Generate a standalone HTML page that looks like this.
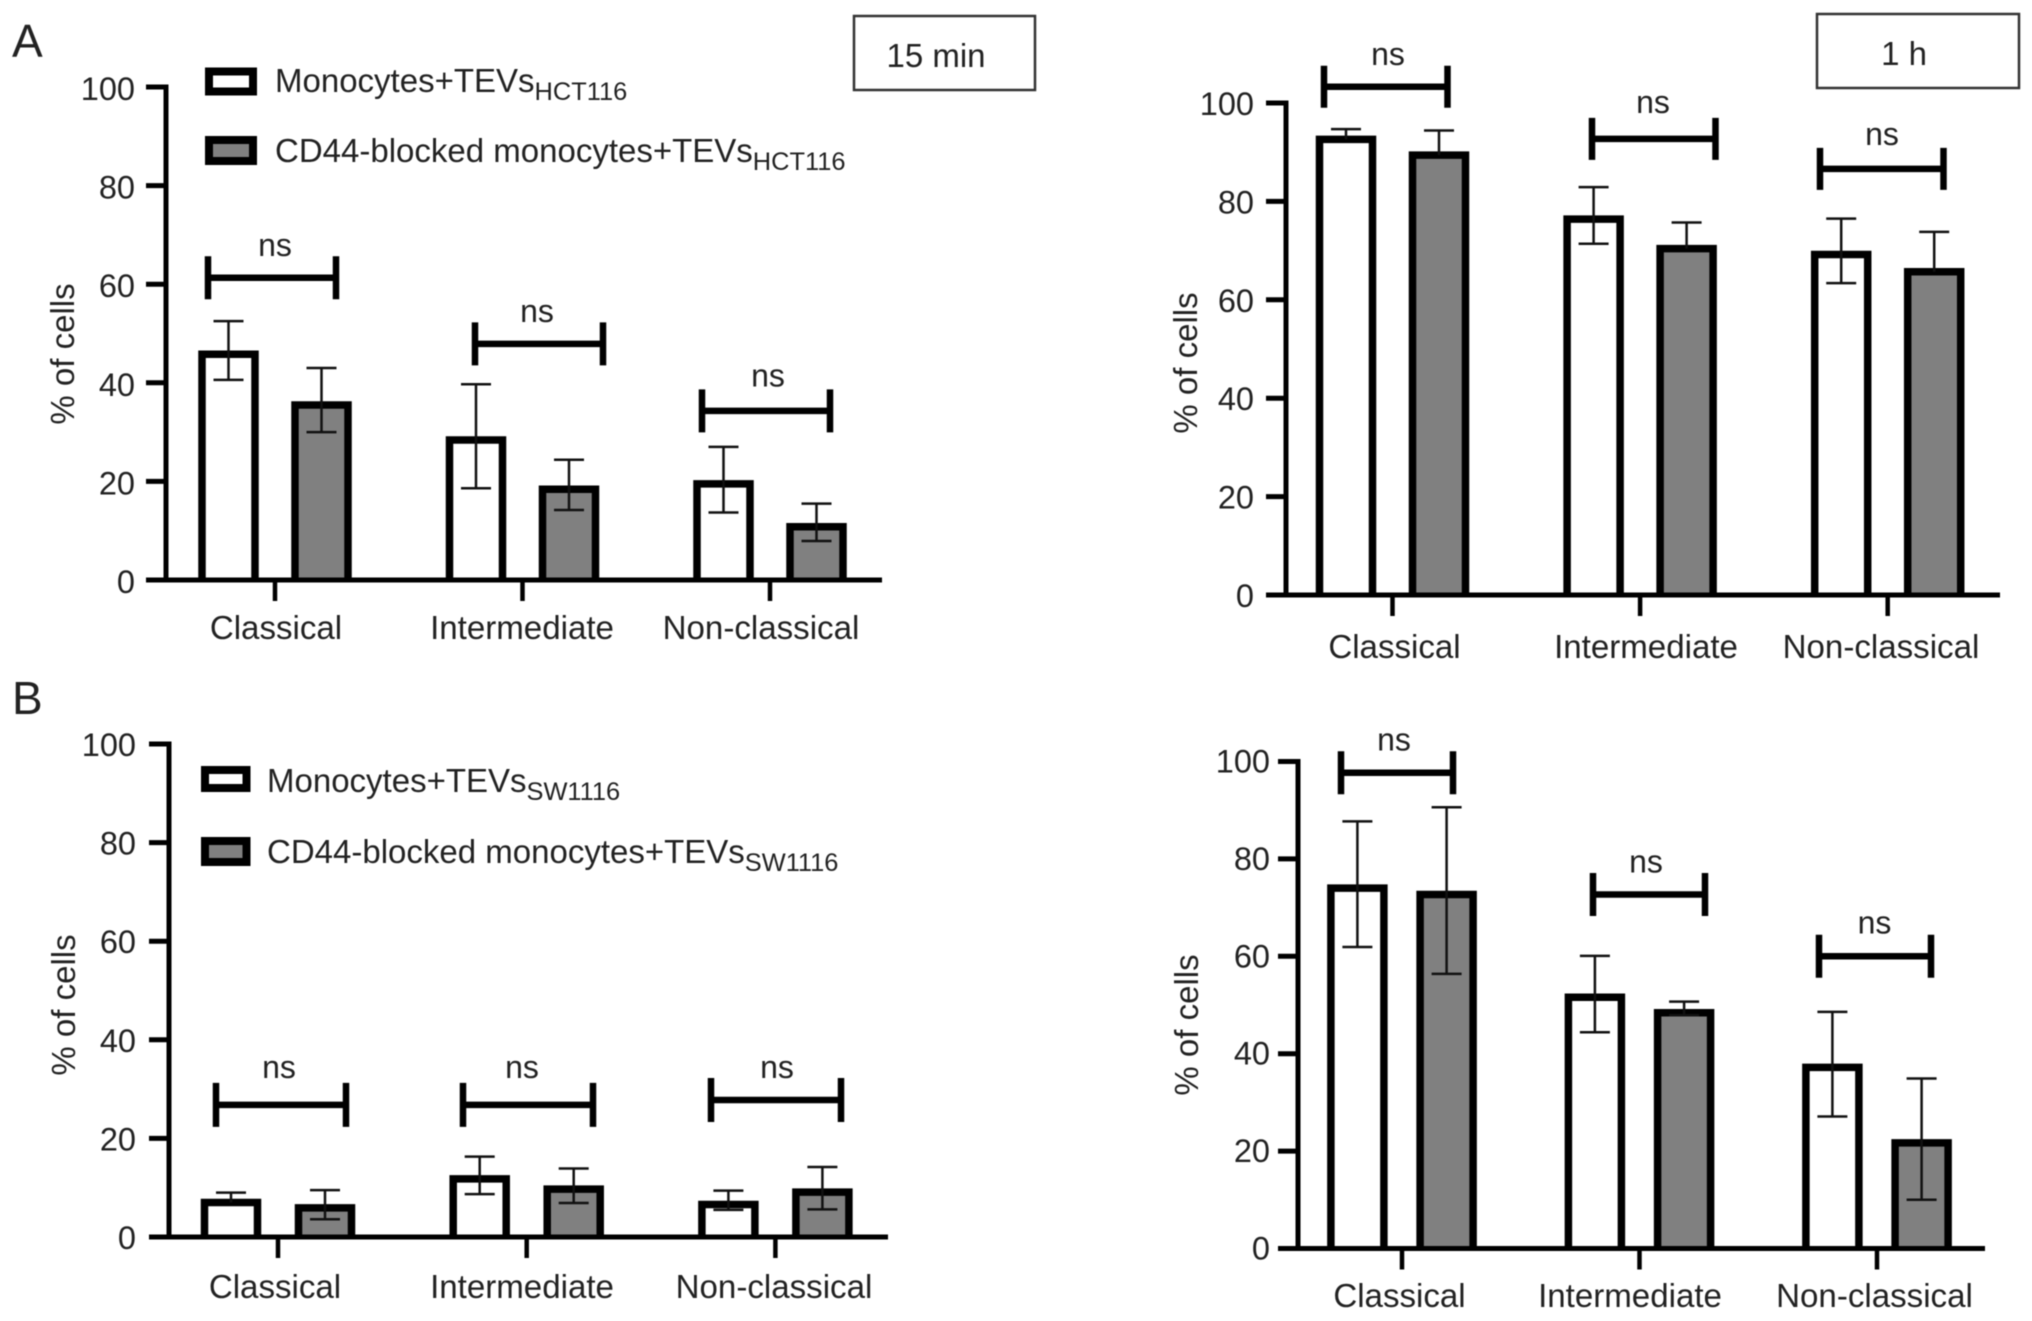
<!DOCTYPE html>
<html lang="en">
<head>
<meta charset="utf-8">
<title>Monocyte subsets after TEV exposure</title>
<style>
html,body{margin:0;padding:0;background:#fff;}
svg{display:block;font-family:"Liberation Sans",Arial,sans-serif;fill:#222;filter:blur(0.45px);}
</style>
</head>
<body>
<svg id="figure" xmlns="http://www.w3.org/2000/svg" width="2032" height="1321" viewBox="0 0 2032 1321">
  <rect width="2032" height="1321" fill="#fff"/>
  <text x="12" y="57" font-size="46">A</text>
  <text x="12" y="714" font-size="46">B</text>

  <g>
    <rect x="854" y="16" width="181" height="74" fill="#fff" stroke="#333" stroke-width="2.5"/>
    <text x="936" y="67" font-size="33" text-anchor="middle">15 min</text>
  </g>
  <g>
    <rect x="1817" y="14" width="202" height="74" fill="#fff" stroke="#333" stroke-width="2.5"/>
    <text x="1904" y="65" font-size="33" text-anchor="middle">1 h</text>
  </g>

  <g>
    <g>
      <rect x="209" y="71.5" width="44" height="20" fill="#fff" stroke="#000" stroke-width="8"/>
      <text x="275" y="92" font-size="33">Monocytes+TEVs<tspan font-size="25.4" dy="8">HCT116</tspan></text>
    </g>
    <g>
      <rect x="209" y="140" width="44" height="21" fill="#808080" stroke="#000" stroke-width="8"/>
      <text x="275" y="162" font-size="33">CD44-blocked monocytes+TEVs<tspan font-size="25.4" dy="8">HCT116</tspan></text>
    </g>
  </g>
  <g>
    <g>
      <rect x="205" y="770" width="41.5" height="18" fill="#fff" stroke="#000" stroke-width="8"/>
      <text x="267" y="792" font-size="33">Monocytes+TEVs<tspan font-size="25.4" dy="8">SW1116</tspan></text>
    </g>
    <g>
      <rect x="205" y="841" width="41.5" height="21" fill="#808080" stroke="#000" stroke-width="8"/>
      <text x="267" y="863" font-size="33">CD44-blocked monocytes+TEVs<tspan font-size="25.4" dy="8">SW1116</tspan></text>
    </g>
  </g>
</svg>
<script>
// ---- Data (percent of cells) ----
const categories = ['Classical', 'Intermediate', 'Non-classical'];
const yTickValues = [0, 20, 40, 60, 80, 100];

const hct15Mono = [45.8, 28.4, 19.5];
const hct15MonoHigh = [52.5, 39.7, 27.0];
const hct15MonoLow = [40.6, 18.6, 13.7];
const hct15Blocked = [35.5, 18.4, 10.8];
const hct15BlockedHigh = [43.0, 24.4, 15.5];
const hct15BlockedLow = [30.0, 14.2, 7.9];
const hct15Brackets = [61.3, 47.9, 34.3];

const hct60Mono = [92.6, 76.4, 69.2];
const hct60MonoHigh = [94.7, 82.9, 76.5];
const hct60MonoLow = [null, 71.4, 63.4];
const hct60Blocked = [89.4, 70.4, 65.7];
const hct60BlockedHigh = [94.4, 75.7, 73.8];
const hct60BlockedLow = [null, null, null];
const hct60Brackets = [103.3, 92.7, 86.6];

const sw15Mono = [7.0, 11.8, 6.6];
const sw15MonoHigh = [9.0, 16.3, 9.4];
const sw15MonoLow = [null, 8.7, 5.5];
const sw15Blocked = [5.9, 9.7, 9.1];
const sw15BlockedHigh = [9.5, 13.9, 14.2];
const sw15BlockedLow = [3.6, 6.9, 5.6];
const sw15Brackets = [26.8, 26.8, 27.8];

const sw60Mono = [74.0, 51.6, 37.2];
const sw60MonoHigh = [87.7, 60.1, 48.6];
const sw60MonoLow = [61.9, 44.4, 27.1];
const sw60Blocked = [72.7, 48.4, 21.7];
const sw60BlockedHigh = [90.6, 50.7, 34.9];
const sw60BlockedLow = [56.4, 47.9, 10.0];
const sw60Brackets = [97.7, 72.7, 60.0];

// ---- Panels: data references plus layout ----
const panels = [
  {id: 'a-15-min', mono: hct15Mono, monoHigh: hct15MonoHigh, monoLow: hct15MonoLow,
   blocked: hct15Blocked, blockedHigh: hct15BlockedHigh, blockedLow: hct15BlockedLow, brackets: hct15Brackets,
   axisX: 166, y0: 580, y100: 87, xEnd: 882, tick0: 275, step: 247.5, offset: 46.5,
   labelRight: 135, labelDrop: 13, titleX: 63, titleY: 354, catY: 639, catCenters: [276, 522, 761],
   bracketLeft: [208, 475, 702], bracketWidth: 128, bracketCap: 21.5, nsCenters: [275, 537, 768], nsLift: [0, 0, 2.5]},
  {id: 'a-1-h', mono: hct60Mono, monoHigh: hct60MonoHigh, monoLow: hct60MonoLow,
   blocked: hct60Blocked, blockedHigh: hct60BlockedHigh, blockedLow: hct60BlockedLow, brackets: hct60Brackets,
   axisX: 1286, y0: 595, y100: 103, xEnd: 2000, tick0: 1392.5, step: 247.6, offset: 46.5,
   labelRight: 1254, labelDrop: 12, titleX: 1186, titleY: 363, catY: 658, catCenters: [1394.5, 1646, 1881],
   bracketLeft: [1324, 1592, 1820], bracketWidth: 123.5, bracketCap: 21, nsCenters: [1388, 1653, 1882], nsLift: [0, 4, 2]},
  {id: 'b-15-min', mono: sw15Mono, monoHigh: sw15MonoHigh, monoLow: sw15MonoLow,
   blocked: sw15Blocked, blockedHigh: sw15BlockedHigh, blockedLow: sw15BlockedLow, brackets: sw15Brackets,
   axisX: 169, y0: 1237, y100: 744, xEnd: 888, tick0: 278, step: 248.7, offset: 47,
   labelRight: 136, labelDrop: 12, titleX: 64, titleY: 1005, catY: 1298, catCenters: [275, 522, 774],
   bracketLeft: [216, 463, 711], bracketWidth: 130, bracketCap: 22, nsCenters: [279, 522, 777], nsLift: [5, 5, 0]},
  {id: 'b-1-h', mono: sw60Mono, monoHigh: sw60MonoHigh, monoLow: sw60MonoLow,
   blocked: sw60Blocked, blockedHigh: sw60BlockedHigh, blockedLow: sw60BlockedLow, brackets: sw60Brackets,
   axisX: 1298, y0: 1248.5, y100: 761.5, xEnd: 1985, tick0: 1402, step: 237.5, offset: 44.6,
   labelRight: 1270, labelDrop: 11, titleX: 1187, titleY: 1025, catY: 1307, catCenters: [1399.5, 1630, 1874.5],
   bracketLeft: [1341, 1593, 1819], bracketWidth: 112, bracketCap: 21.5, nsCenters: [1394, 1646, 1874.5], nsLift: [0, 0, 1]}
];

const SVG_NS = 'http://www.w3.org/2000/svg';
const figure = document.getElementById('figure');

function make(parent, tag, attrs, text) {
  const el = document.createElementNS(SVG_NS, tag);
  for (const key in attrs) el.setAttribute(key, attrs[key]);
  if (text !== undefined) el.textContent = text;
  parent.appendChild(el);
  return el;
}

function drawBar(g, panel, yOf, xCenter, value, high, low, fill, tag) {
  const barWidth = 53;
  const left = xCenter - barWidth / 2;
  const bar = make(g, 'path', {d: 'M' + left + ' ' + yOf(0) + 'V' + yOf(value) + 'H' + (left + barWidth) + 'V' + yOf(0), fill: fill, stroke: '#000', 'stroke-width': 7.5});
  
  
  const stem = make(g, 'line', {x1: xCenter, x2: xCenter, y1: yOf(high), y2: yOf(low === null ? value : low), stroke: '#111', 'stroke-width': 2.5});
  
  
  const capTop = make(g, 'line', {x1: xCenter - 15, x2: xCenter + 15, y1: yOf(high), y2: yOf(high), stroke: '#111', 'stroke-width': 2.5});
  
  
  if (low !== null) {
    const capLow = make(g, 'line', {x1: xCenter - 15, x2: xCenter + 15, y1: yOf(low), y2: yOf(low), stroke: '#111', 'stroke-width': 2.5});
    
    
  }
}

function drawPanel(panel) {
  const yOf = v => panel.y0 - v * (panel.y0 - panel.y100) / 100;
  const groupX = i => panel.tick0 + i * panel.step;

  const g = make(figure, 'g', {});
  
  

  categories.forEach((cat, i) => {
    drawBar(g, panel, yOf, groupX(i) - panel.offset, panel.mono[i], panel.monoHigh[i], panel.monoLow[i], '#fff', 'monocytes-' + cat.toLowerCase());
    drawBar(g, panel, yOf, groupX(i) + panel.offset, panel.blocked[i], panel.blockedHigh[i], panel.blockedLow[i], '#808080', 'blocked-' + cat.toLowerCase());
  });

  const yAxis = make(g, 'line', {x1: panel.axisX, x2: panel.axisX, y1: yOf(100) - 2.5, y2: yOf(0) + 2.5, stroke: '#000', 'stroke-width': 5});
  
  
  const xAxis = make(g, 'line', {x1: panel.axisX - 20, x2: panel.xEnd, y1: yOf(0), y2: yOf(0), stroke: '#000', 'stroke-width': 5});
  
  

  yTickValues.forEach(v => {
    const tick = make(g, 'line', {x1: panel.axisX - 20, x2: panel.axisX, y1: yOf(v), y2: yOf(v), stroke: '#000', 'stroke-width': 5});
    
    
    const label = make(g, 'text', {x: panel.labelRight, y: yOf(v) + panel.labelDrop, 'font-size': 32.5, 'text-anchor': 'end'}, String(v));
    
    
  });

  const titleBase = panel.titleX + 11;
  const title = make(g, 'text', {x: titleBase, y: panel.titleY, 'font-size': 33, 'text-anchor': 'middle', transform: 'rotate(-90 ' + titleBase + ' ' + panel.titleY + ')'}, '% of cells');
  
  

  categories.forEach((cat, i) => {
    const tick = make(g, 'line', {x1: groupX(i), x2: groupX(i), y1: yOf(0), y2: yOf(0) + 21, stroke: '#000', 'stroke-width': 4.5});
    
    
    const label = make(g, 'text', {x: panel.catCenters[i], y: panel.catY, 'font-size': 33.1, 'text-anchor': 'middle'}, cat);
    
    

    const by = yOf(panel.brackets[i]);
    const left = panel.bracketLeft[i];
    const right = left + panel.bracketWidth;
    const path = make(g, 'path', {d: 'M' + left + ' ' + (by - panel.bracketCap) + 'V' + (by + panel.bracketCap) + 'M' + left + ' ' + by + 'H' + right + 'M' + right + ' ' + (by - panel.bracketCap) + 'V' + (by + panel.bracketCap), fill: 'none', stroke: '#000', 'stroke-width': 6.5});
    
    
    const ns = make(g, 'text', {x: panel.nsCenters[i], y: by - 22 - panel.nsLift[i], 'font-size': 32, 'text-anchor': 'middle'}, 'ns');
    
    
  });
}

panels.forEach(drawPanel);
</script>
</body>
</html>
